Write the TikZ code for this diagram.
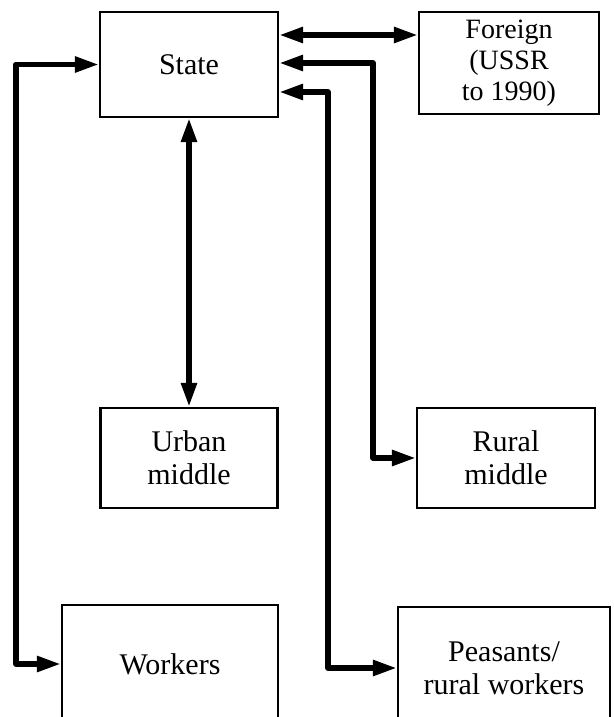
\documentclass[tikz,border=0pt]{standalone}
\usepackage{fontspec}
\setmainfont{Liberation Serif}
\usetikzlibrary{arrows.meta}
\tikzset{
  box/.style={draw, line width=2.2pt, align=center, inner sep=0pt, font=\fontsize{30}{33}\selectfont},
  smallbox/.style={box, font=\fontsize{28}{31}\selectfont},
  conn/.style={line width=5.5pt, line join=round, {Triangle[length=24pt,width=15pt]}-{Triangle[length=24pt,width=15pt]}}
}
\begin{document}
\begin{tikzpicture}[x=1pt,y=-1pt]
\useasboundingbox (0,0) rectangle (613,717);
\clip (0,0) rectangle (613,717);
\node[box, minimum width=178pt, minimum height=105pt] (State) at (189,64.5) {State};
\node[smallbox, minimum width=180pt, minimum height=102pt] (Foreign) at (509,63) {Foreign\\(USSR\\to 1990)};
\node[box, minimum width=177pt, minimum height=100pt] (Urban) at (189,458) {Urban\\middle};
\node[box, minimum width=178pt, minimum height=100pt] (Rural) at (506,458) {Rural\\middle};
\node[box, minimum width=216pt, minimum height=118pt] (Workers) at (170,664) {Workers};
\node[box, minimum width=212pt, minimum height=122pt] (Peasants) at (504,668) {Peasants/\\rural workers};
\draw[conn] ([yshift=29.5pt]State.east) -- ([yshift=29.5pt]State.east -| Foreign.west);
\draw[conn] ([yshift=1.5pt]State.east) -- ++(94,0) |- (Rural.west);
\draw[conn] ([yshift=-27.5pt]State.east) -- ++(49,0) |- (Peasants.west);
\draw[conn] (State.west) -- ++(-83,0) |- (Workers.west);
\draw[conn] (State.south) -- (State.south |- Urban.north);
\end{tikzpicture}
\end{document}
